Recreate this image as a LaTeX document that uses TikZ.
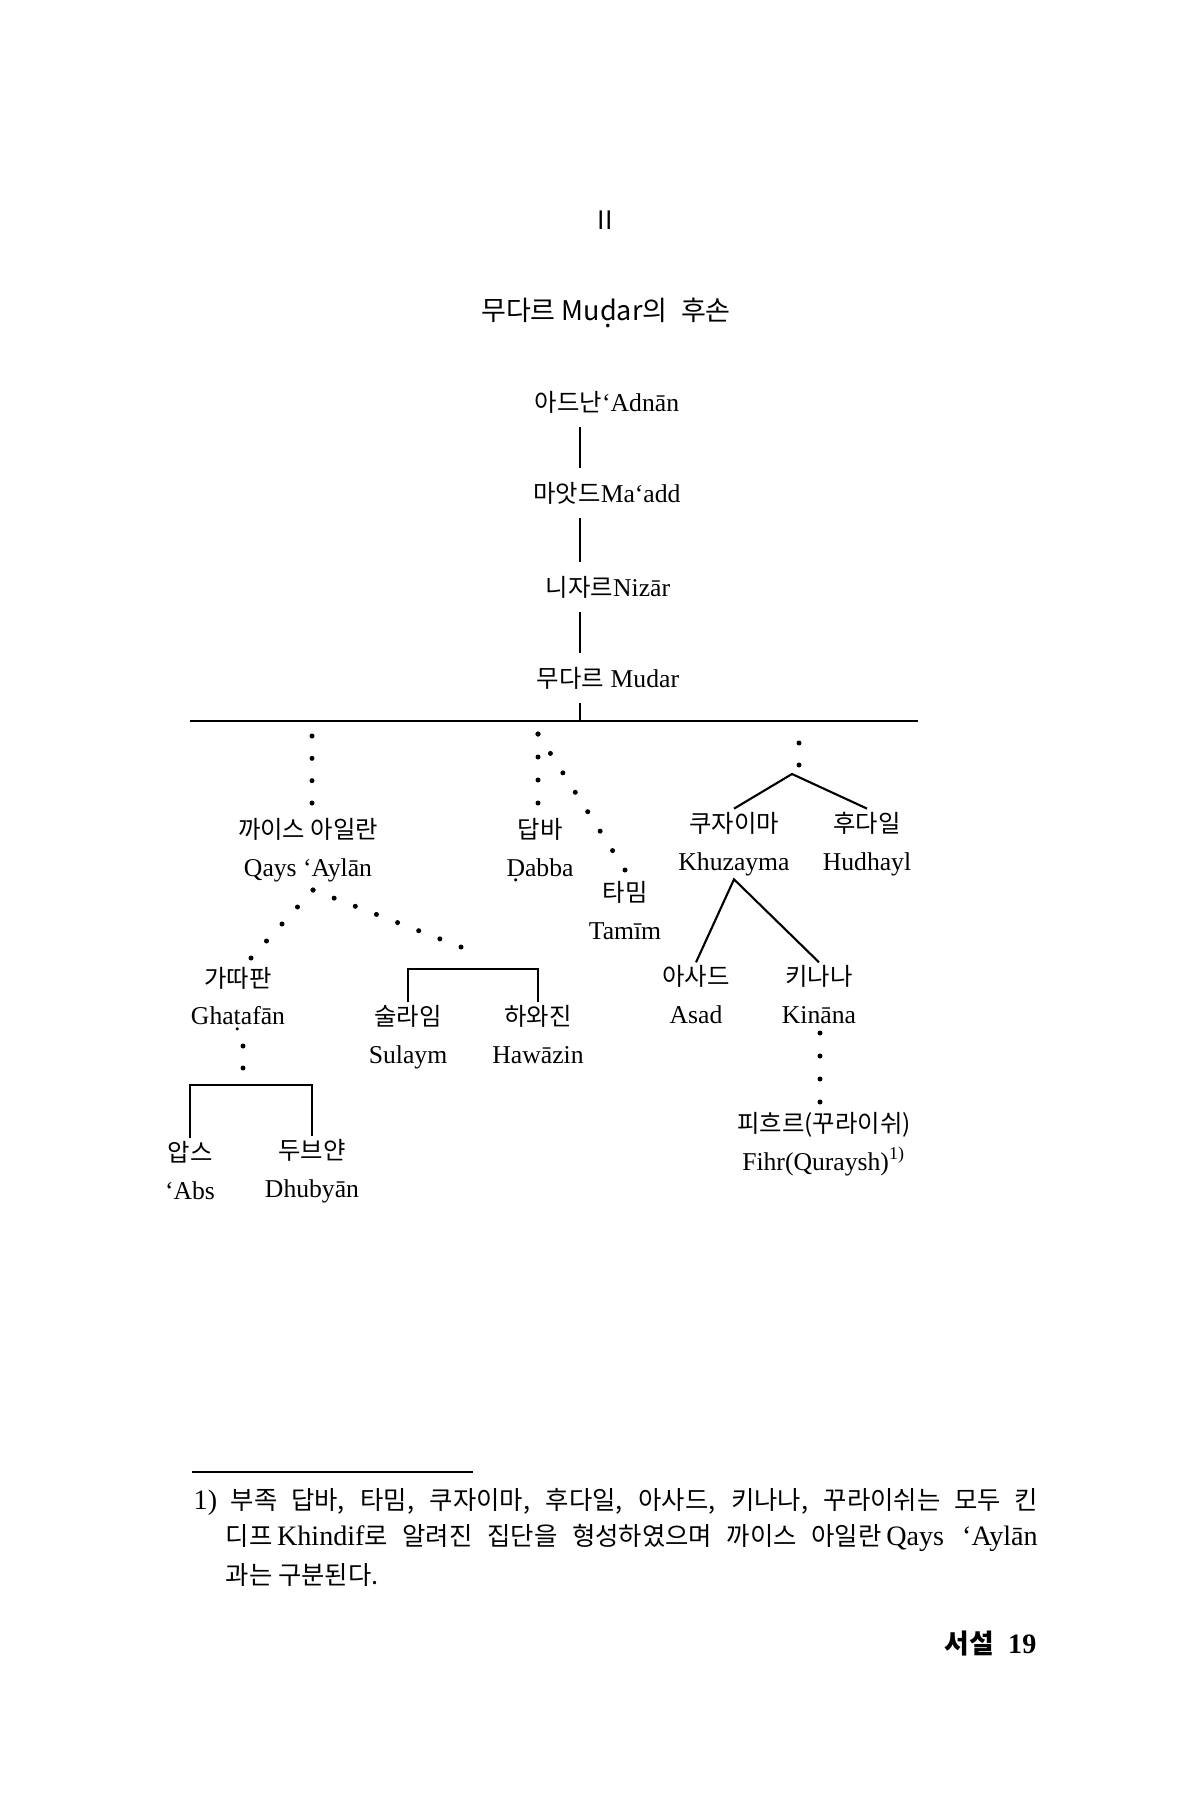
\documentclass[tikz,border=0pt]{standalone}
\usepackage{fontspec}
\setmainfont{Liberation Serif}
\newfontfamily\krfont{Noto Sans CJK KR}[Scale=0.95]
\newcommand\ko[1]{{\krfont #1}}
\newcommand\kof[1]{{\krfont\fontsize{7.6}{10}\selectfont #1}}
\newcommand\ud[1]{{\oalign{#1\crcr\hidewidth.\hidewidth}}}
\usetikzlibrary{calc}
\tikzset{
    tribe/.style={align=center, inner sep=0pt, outer sep=1pt, font=\fontsize{7.3}{10.8}\selectfont},
    spine/.style={inner sep=0pt, outer sep=4pt, font=\fontsize{7.3}{9}\selectfont},
    foot/.style={inner sep=0pt, anchor=west, font=\fontsize{8}{10}\selectfont},
    link/.style={line width=0.6pt},
}
\newcommand\dotline[3]{\foreach \t in {0,...,#3}{\fill ($(#1)!\t/#3!(#2)$) circle (2.5);}}
\begin{document}
\begin{tikzpicture}[x=0.1mm,y=-0.1mm]
        \useasboundingbox (0,0) rectangle (1200,1800);
        \node[inner sep=0pt] (chap) at (605,220) {\krfont\fontsize{7.6}{9}\selectfont II};
        \node[inner sep=0pt] (title) at (606,313) {\krfont\fontsize{8.1}{10}\selectfont 무다르 Mu\ud{d}ar의\enspace 후손};

        \node[spine] (adnan) at (607,402) {\ko{아드난}‘Adnān};
        \node[spine] (maadd) at (607,493) {\ko{마앗드}Ma‘add};
        \node[spine] (nizar) at (608,587) {\ko{니자르}Nizār};
        \node[spine] (mudar) at (608,678) {\ko{무다르} Mudar};
        \coordinate (spine) at (580,721);
        \coordinate (barL) at (190,721);
        \coordinate (barR) at (918,721);
        \draw[link] (adnan.south -| spine) -- (maadd.north -| spine);
        \draw[link] (maadd.south -| spine) -- (nizar.north -| spine);
        \draw[link] (nizar.south -| spine) -- (mudar.north -| spine);
        \draw[link] (mudar.south -| spine) -- (spine);
        \draw[link] (barL) -- (barR);

        \node[tribe] (qays) at (308,850) {\ko{까이스 아일란}\\Qays\ ‘Aylān};
        \node[tribe] (dabba) at (540,850) {\ko{답바}\\\ud{D}abba};
        \node[tribe] (tamim) at (625,911) {\ko{타밈}\\Tamīm};
        \node[tribe] (khuz) at (734,844) {\ko{쿠자이마}\\Khuzayma};
        \node[tribe] (hudh) at (867,844) {\ko{후다일}\\Hudhayl};
        \node[tribe] (ghat) at (238,999) {\ko{가따판}\\Gha\ud{t}afān};
        \node[tribe] (sulaym) at (408,1037) {\ko{술라임}\\Sulaym};
        \node[tribe] (hawazin) at (538,1035) {\ko{하와진}\\Hawāzin};
        \node[tribe] (asad) at (696,995) {\ko{아사드}\\Asad};
        \node[tribe] (kinana) at (819,995) {\ko{키나나}\\Kināna};
        \node[tribe] (fihr) at (824,1144) {\ko{피흐르(꾸라이쉬)}\\Fihr(Quraysh)\textsuperscript{1)}};
        \node[tribe] (abs) at (190,1171) {\ko{압스}\\‘Abs};
        \node[tribe] (dhub) at (312,1171) {\ko{두브얀}\\Dhubyān};

        \coordinate (qtop) at (312,736);
        \coordinate (qbot) at (312,803);
        \coordinate (qfork) at (313,890);
        \coordinate (gend) at (251,958);
        \coordinate (send) at (461,947);
        \coordinate (dtop) at (538,734);
        \coordinate (dbot) at (538,803);
        \coordinate (tend) at (625,870);
        \coordinate (ktop) at (799,743);
        \coordinate (kbot) at (799,765);
        \coordinate (kfork) at (792,774);
        \coordinate (gtop) at (243,1046);
        \coordinate (gbot) at (243,1068);
        \coordinate (ntop) at (820,1033);
        \coordinate (nbot) at (820,1102);
        \coordinate (shbar) at (473,969);
        \coordinate (adbar) at (250,1085);

        \dotline{qtop}{qbot}{3}
        \dotline{qfork}{gend}{4}
        \dotline{qfork}{send}{7}
        \dotline{dtop}{dbot}{3}
        \dotline{dtop}{tend}{7}
        \dotline{ktop}{kbot}{1}
        \dotline{gtop}{gbot}{1}
        \dotline{ntop}{nbot}{3}

        \draw[link] (khuz.north) -- (kfork) -- (hudh.north);
        \draw[link] (asad.north) -- (khuz.south) -- (kinana.north);
        \draw[link] (sulaym.north) |- (shbar) -| (hawazin.north);
        \draw[link] (abs.north) |- (adbar) -| (dhub.north);

        \coordinate (ruleL) at (192,1472);
        \coordinate (ruleR) at (473,1472);
        \draw[line width=0.5pt] (ruleL) -- (ruleR);
        \node[foot] (fn1) at (193,1502) {\makebox[84.4mm][s]{1)\kof{ 부족 답바, 타밈, 쿠자이마, 후다일, 아사드, 키나나, 꾸라이쉬는 모두 킨}}};
        \node[foot] (fn2) at (225,1538) {\makebox[81.2mm][s]{\kof{디프}\,Khindif\kof{로 알려진 집단을 형성하였으며 까이스 아일란}\,Qays ‘Aylān}};
        \node[foot] (fn3) at (225,1575) {\kof{과는 구분된다.}};
        \node[inner sep=0pt, anchor=east, font=\fontsize{8}{10}\selectfont\bfseries] (page) at (1037,1643) {\ko{서설}\enspace 19};
    \end{tikzpicture}
\end{document}
